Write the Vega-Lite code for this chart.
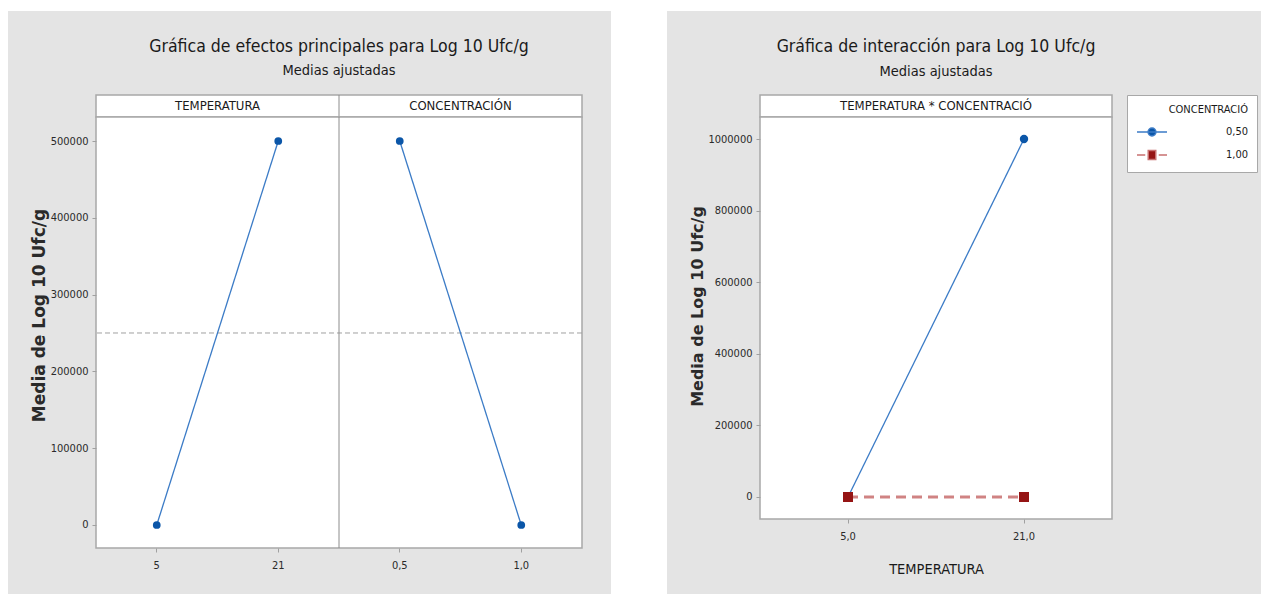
{
  "$schema": "https://vega.github.io/schema/vega-lite/v6.json",
  "background": "#e4e4e4",
  "padding": 0,
  "data": {"values": [{}]},
  "columns": 8,
  "spacing": 0,
  "bounds": "flush",
  "align": "each",
  "resolve": {
    "scale": {"color": "independent", "stroke": "independent", "shape": "independent"},
    "legend": {"color": "independent", "stroke": "independent", "shape": "independent"}
  },
  "concat": [
    {"width": 8, "height": 11, "mark": {"type": "point", "opacity": 0}, "encoding": {}, "view": {"fill": "#ffffff"}},
    {"width": 88, "height": 11, "mark": {"type": "point", "opacity": 0}, "encoding": {}, "view": {"fill": "#ffffff"}},
    {"width": 486, "height": 11, "mark": {"type": "point", "opacity": 0}, "encoding": {}, "view": {"fill": "#ffffff"}},
    {"width": 29, "height": 11, "mark": {"type": "point", "opacity": 0}, "encoding": {}, "view": {"fill": "#ffffff"}},
    {"width": 56, "height": 11, "mark": {"type": "point", "opacity": 0}, "encoding": {}, "view": {"fill": "#ffffff"}},
    {"width": 93, "height": 11, "mark": {"type": "point", "opacity": 0}, "encoding": {}, "view": {"fill": "#ffffff"}},
    {"width": 352, "height": 11, "mark": {"type": "point", "opacity": 0}, "encoding": {}, "view": {"fill": "#ffffff"}},
    {"width": 149, "height": 11, "mark": {"type": "point", "opacity": 0}, "encoding": {}, "view": {"fill": "#ffffff"}},

    {"width": 8, "height": 84, "mark": {"type": "point", "opacity": 0}, "encoding": {}, "view": {"fill": "#ffffff"}},
    {"width": 1, "height": 1, "mark": {"type": "point", "opacity": 0}, "encoding": {}},
    {"width": 1, "height": 1, "mark": {"type": "point", "opacity": 0}, "encoding": {}},
    {"width": 1, "height": 1, "mark": {"type": "point", "opacity": 0}, "encoding": {}},
    {"width": 56, "height": 84, "mark": {"type": "point", "opacity": 0}, "encoding": {}, "view": {"fill": "#ffffff"}},
    {"width": 1, "height": 1, "mark": {"type": "point", "opacity": 0}, "encoding": {}},
    {"width": 1, "height": 1, "mark": {"type": "point", "opacity": 0}, "encoding": {}},
    {"width": 1, "height": 1, "mark": {"type": "point", "opacity": 0}, "encoding": {}},

    {"width": 8, "height": 22, "mark": {"type": "point", "opacity": 0}, "encoding": {}, "view": {"fill": "#ffffff"}},
    {"width": 1, "height": 1, "mark": {"type": "point", "opacity": 0}, "encoding": {}},
    {
      "width": 486, "height": 22,
      "title": {"text": "Gráfica de efectos principales para Log 10 Ufc/g", "subtitle": "Medias ajustadas"},
      "view": {"fill": "#ffffff", "stroke": "#a8a8a8", "strokeWidth": 1.5},
      "data": {"values": [{"factor": "TEMPERATURA"}, {"factor": "CONCENTRACIÓN"}]},
      "layer": [
        {
          "mark": {"type": "text", "font": "DejaVu Sans Condensed", "fontSize": 13, "color": "#1a1a1a"},
          "encoding": {
            "x": {"field": "factor", "type": "nominal", "scale": {"type": "band", "domain": ["TEMPERATURA", "CONCENTRACIÓN"], "paddingInner": 0, "paddingOuter": 0}, "axis": null},
            "text": {"field": "factor"}
          }
        },
        {
          "data": {"values": [{}]},
          "mark": {"type": "rule", "color": "#8c8c8c", "strokeWidth": 1},
          "encoding": {"x": {"datum": "CONCENTRACIÓN", "type": "nominal", "bandPosition": 0}}
        }
      ]
    },
    {"width": 1, "height": 1, "mark": {"type": "point", "opacity": 0}, "encoding": {}},
    {"width": 56, "height": 22, "mark": {"type": "point", "opacity": 0}, "encoding": {}, "view": {"fill": "#ffffff"}},
    {"width": 1, "height": 1, "mark": {"type": "point", "opacity": 0}, "encoding": {}},
    {
      "width": 352, "height": 22,
      "title": {"text": "Gráfica de interacción para Log 10 Ufc/g", "subtitle": "Medias ajustadas"},
      "view": {"fill": "#ffffff", "stroke": "#a8a8a8", "strokeWidth": 1.5},
      "data": {"values": [{"panel": "TEMPERATURA * CONCENTRACIÓ"}]},
      "mark": {"type": "text", "font": "DejaVu Sans Condensed", "fontSize": 13, "color": "#1a1a1a"},
      "encoding": {"text": {"field": "panel"}}
    },
    {"width": 1, "height": 1, "mark": {"type": "point", "opacity": 0}, "encoding": {}},

    {"width": 8, "height": 431, "mark": {"type": "point", "opacity": 0}, "encoding": {}, "view": {"fill": "#ffffff"}},
    {"width": 1, "height": 1, "mark": {"type": "point", "opacity": 0}, "encoding": {}},
    {
      "width": 486, "height": 431,
      "view": {"fill": "#ffffff", "stroke": "#a8a8a8", "strokeWidth": 1.5},
      "data": {"values": [
        {"factor": "TEMPERATURA", "nivel": "5", "media": 0},
        {"factor": "TEMPERATURA", "nivel": "21", "media": 500000},
        {"factor": "CONCENTRACIÓN", "nivel": "0,5", "media": 500000},
        {"factor": "CONCENTRACIÓN", "nivel": "1,0", "media": 0}
      ]},
      "layer": [
        {
          "data": {"values": [{}]},
          "mark": {"type": "rule", "color": "#a0a0a0", "strokeDash": [5, 3], "strokeWidth": 1},
          "encoding": {"y": {"datum": 250000, "type": "quantitative"}}
        },
        {
          "data": {"values": [{}]},
          "mark": {"type": "rule", "color": "#8c8c8c", "strokeWidth": 1},
          "encoding": {"x": {"datum": "0,5", "type": "nominal", "bandPosition": 0}}
        },
        {
          "mark": {"type": "line", "color": "#3b7bc6", "strokeWidth": 1.3},
          "encoding": {
            "x": {"field": "nivel", "type": "nominal", "scale": {"type": "band", "domain": ["5", "21", "0,5", "1,0"], "paddingInner": 0, "paddingOuter": 0}, "axis": {"title": null}},
            "y": {"field": "media", "type": "quantitative", "scale": {"domain": [-29948, 531250], "nice": false, "zero": false}, "axis": {"title": "Media de Log 10 Ufc/g", "titleY": 198, "values": [0, 100000, 200000, 300000, 400000, 500000], "format": "d"}},
            "detail": {"field": "factor"}
          }
        },
        {
          "mark": {"type": "point", "filled": true, "color": "#0b56a8", "size": 60, "opacity": 1},
          "encoding": {
            "x": {"field": "nivel", "type": "nominal"},
            "y": {"field": "media", "type": "quantitative"}
          }
        }
      ]
    },
    {"width": 1, "height": 1, "mark": {"type": "point", "opacity": 0}, "encoding": {}},
    {"width": 56, "height": 431, "mark": {"type": "point", "opacity": 0}, "encoding": {}, "view": {"fill": "#ffffff"}},
    {"width": 1, "height": 1, "mark": {"type": "point", "opacity": 0}, "encoding": {}},
    {
      "width": 352, "height": 402,
      "view": {"fill": "#ffffff", "stroke": "#a8a8a8", "strokeWidth": 1.5},
      "data": {"values": [
        {"TEMPERATURA": "5,0", "CONC": "0,50", "media": 0},
        {"TEMPERATURA": "21,0", "CONC": "0,50", "media": 1000000},
        {"TEMPERATURA": "5,0", "CONC": "1,00", "media": 0},
        {"TEMPERATURA": "21,0", "CONC": "1,00", "media": 0}
      ]},
      "encoding": {
        "x": {"field": "TEMPERATURA", "type": "nominal", "scale": {"type": "band", "domain": ["5,0", "21,0"], "paddingInner": 0, "paddingOuter": 0}, "axis": {"title": "TEMPERATURA", "titlePadding": 21}},
        "y": {"field": "media", "type": "quantitative", "scale": {"domain": [-61453, 1061453], "nice": false, "zero": false}, "axis": {"title": "Media de Log 10 Ufc/g", "titleY": 189, "titleFontSize": 16, "values": [0, 200000, 400000, 600000, 800000, 1000000], "format": "d"}}
      },
      "layer": [
        {
          "transform": [{"filter": "datum.CONC == '0,50'"}],
          "mark": {"type": "line", "color": "#3b7bc6", "strokeWidth": 1.3}
        },
        {
          "transform": [{"filter": "datum.CONC == '1,00'"}],
          "mark": {"type": "line", "color": "#d08383", "strokeWidth": 3, "strokeDash": [10, 6]}
        },
        {
          "transform": [{"filter": "datum.CONC == '0,50'"}],
          "mark": {"type": "point", "filled": true, "color": "#0b56a8", "size": 70, "opacity": 1}
        },
        {
          "transform": [{"filter": "datum.CONC == '1,00'"}],
          "mark": {"type": "square", "color": "#951414", "size": 100, "opacity": 1}
        },
        {
          "mark": {"type": "point", "filled": true, "opacity": 0, "strokeWidth": 1.5},
          "encoding": {
            "color": {"field": "CONC", "type": "nominal", "scale": {"domain": ["0,50", "1,00"], "range": ["#0b56a8", "#951414"]}, "legend": {"title": "CONCENTRACIÓ"}},
            "stroke": {"field": "CONC", "type": "nominal", "scale": {"domain": ["0,50", "1,00"], "range": ["#3b7bc6", "#c87070"]}, "legend": {"title": "CONCENTRACIÓ"}},
            "shape": {"field": "CONC", "type": "nominal", "scale": {"domain": ["0,50", "1,00"], "range": ["M-1,0H1M0.26,0A0.26,0.26 0 1 1 -0.26,0A0.26,0.26 0 1 1 0.26,0Z", "M-1,0H-0.45M-0.25,-0.3H0.25V0.3H-0.25ZM0.45,0H1"]}, "legend": {"title": "CONCENTRACIÓ"}}
          }
        }
      ]
    },
    {"width": 1, "height": 1, "mark": {"type": "point", "opacity": 0}, "encoding": {}},

    {"width": 8, "height": 46, "mark": {"type": "point", "opacity": 0}, "encoding": {}, "view": {"fill": "#ffffff"}},
    {"width": 1, "height": 1, "mark": {"type": "point", "opacity": 0}, "encoding": {}},
    {"width": 1, "height": 1, "mark": {"type": "point", "opacity": 0}, "encoding": {}},
    {"width": 1, "height": 1, "mark": {"type": "point", "opacity": 0}, "encoding": {}},
    {"width": 56, "height": 46, "mark": {"type": "point", "opacity": 0}, "encoding": {}, "view": {"fill": "#ffffff"}},
    {"width": 1, "height": 1, "mark": {"type": "point", "opacity": 0}, "encoding": {}},
    {"width": 1, "height": 1, "mark": {"type": "point", "opacity": 0}, "encoding": {}},
    {"width": 1, "height": 1, "mark": {"type": "point", "opacity": 0}, "encoding": {}}
  ],
  "config": {
    "view": {"stroke": null},
    "font": "DejaVu Sans Condensed",
    "title": {"font": "DejaVu Sans Condensed", "fontSize": 17.5, "fontWeight": "normal", "color": "#1a1a1a", "subtitleFont": "DejaVu Sans Condensed", "subtitleFontSize": 14.5, "subtitleColor": "#1a1a1a", "subtitlePadding": 9, "offset": 17, "anchor": "middle", "frame": "group"},
    "axis": {"labelFont": "DejaVu Sans Condensed", "labelFontSize": 11, "labelColor": "#2a2a2a", "tickColor": "#a0a0a0", "tickSize": 4, "tickWidth": 1, "domain": false, "grid": false, "labelPadding": 4},
    "axisY": {"titleFont": "DejaVu Sans", "titleFontSize": 17, "titleFontWeight": "bold", "titleColor": "#2a2a2a", "titlePadding": 2},
    "axisX": {"titleFont": "DejaVu Sans Condensed", "titleFontSize": 14.5, "titleFontWeight": "normal", "titleColor": "#1a1a1a", "labelPadding": 7, "labelAngle": 0},
    "legend": {"orient": "none", "legendX": 367, "legendY": -22, "fillColor": "#ffffff", "strokeColor": "#a8a8a8", "padding": 9, "titleFont": "DejaVu Sans Condensed", "titleFontSize": 11, "titleFontWeight": "normal", "titleColor": "#1a1a1a", "titleAnchor": "end", "labelFont": "DejaVu Sans Condensed", "labelFontSize": 11, "labelColor": "#1a1a1a", "labelAlign": "right", "labelOffset": 80, "symbolSize": 900, "symbolStrokeWidth": 1.5, "symbolOpacity": 1, "rowPadding": 0, "titlePadding": 1}
  }
}
